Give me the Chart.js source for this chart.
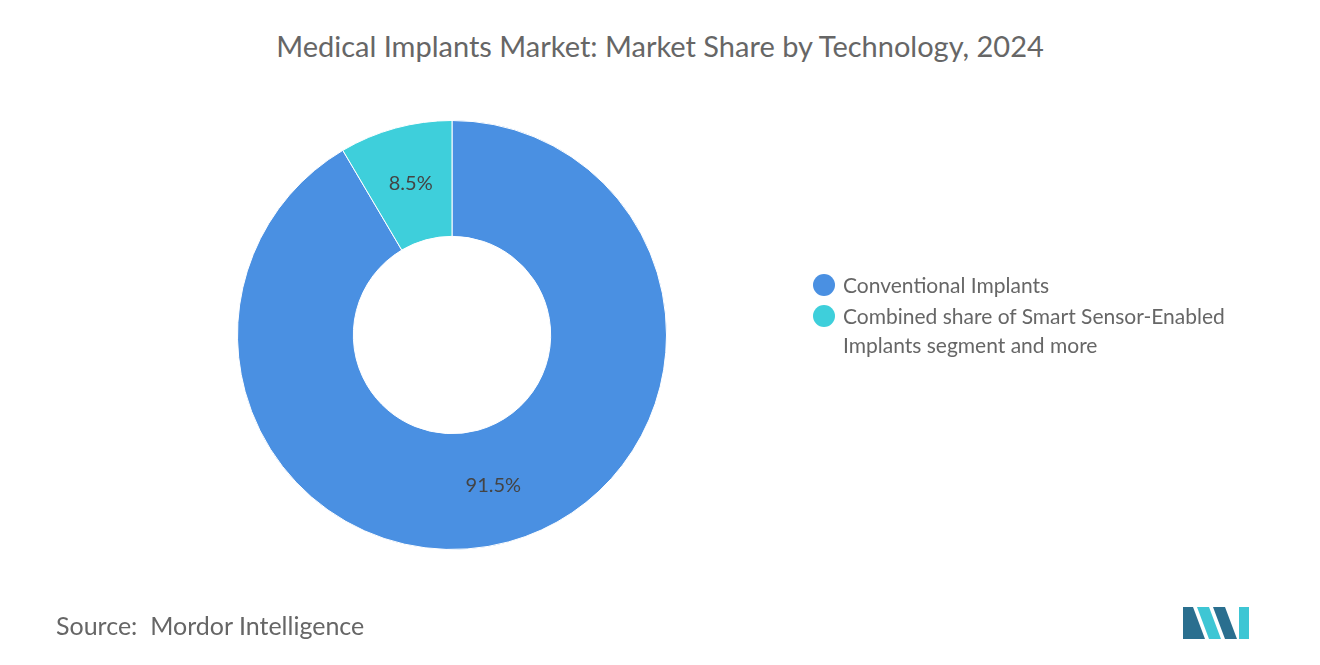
<!DOCTYPE html>
<html><head><meta charset="utf-8">
<script src="https://cdn.jsdelivr.net/npm/chart.js@4"></script>
<style>
body{margin:0;width:1320px;height:665px;background:#fff;font-family:Lato,"Open Sans",sans-serif;position:relative;overflow:hidden}
#title{position:absolute;top:28px;left:0;width:1320px;text-align:center;font-size:29px;color:#666}
#legend{position:absolute;left:813px;top:270px;font-size:21px;color:#666;line-height:29px}
.item{position:relative;padding-left:30px;margin-bottom:2px}
.dot{position:absolute;left:0;top:4px;width:22px;height:22px;border-radius:50%}
#source{position:absolute;left:56px;top:610px;font-size:25px;color:#666}
#logo{position:absolute;left:1183px;top:603px}
canvas#c{position:absolute;left:0;top:0}
</style></head><body>
<div id="title">Medical Implants Market: Market Share by Technology, 2024</div>
<canvas id="c" width="1320" height="665"></canvas>
<div id="legend"></div>
<div id="source">Source:&nbsp; Mordor Intelligence</div>
<svg id="logo" width="70" height="36" viewBox="0 0 70 36">
<polygon points="0,36 0,4 10,4 22,36" fill="#2a6f8f"/>
<polygon points="14,4 26,4 38,36 26,36" fill="#3ec6d4"/>
<polygon points="30,4 42,4 54,36 42,36" fill="#2a6f8f"/>
<polygon points="56,4 66,4 66,36 56,36" fill="#3ec6d4"/>
</svg>
<script>
const categories=["Conventional Implants","Combined share of Smart Sensor-Enabled Implants segment and more"];
const legendLines=[["Conventional Implants"],["Combined share of Smart Sensor-Enabled","Implants segment and more"]];
const values=[91.5,8.5];
const colors=["#4a90e2","#3ecfdb"];
const lg=document.getElementById('legend');
legendLines.forEach((l,i)=>{const d=document.createElement('div');d.className='item';d.innerHTML='<span class="dot" style="background:'+colors[i]+'"></span>'+l.join('<br>');lg.appendChild(d);});
const labelPlugin={id:'lbl',afterDatasetsDraw(ch){const ctx=ch.ctx;const meta=ch.getDatasetMeta(0);ctx.save();ctx.font='20px Lato, sans-serif';ctx.fillStyle='#444';ctx.textAlign='center';ctx.textBaseline='middle';
meta.data.forEach((a,i)=>{const p=a.tooltipPosition();ctx.fillText(values[i]+'%',p.x,p.y);});ctx.restore();}};
new Chart(document.getElementById('c'),{type:'doughnut',
data:{labels:categories,datasets:[{data:values,backgroundColor:colors,borderColor:'#fff',borderWidth:1}]},
options:{responsive:false,animation:false,cutout:'46%',
layout:{padding:{left:237,right:653,top:120,bottom:115}},
plugins:{legend:{display:false},tooltip:{enabled:false}}},
plugins:[labelPlugin]});
</script>
</body></html>
